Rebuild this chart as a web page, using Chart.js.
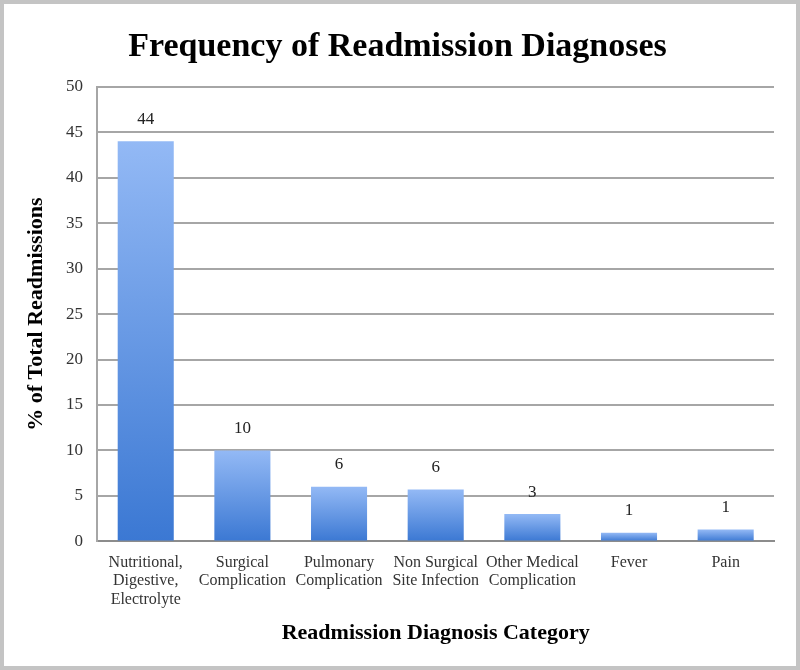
<!DOCTYPE html>
<html>
<head>
<meta charset="utf-8">
<script src="https://cdn.jsdelivr.net/npm/chart.js@4"></script>
<style>
  html, body { margin: 0; padding: 0; background: #fff; }
  #wrap { position: relative; width: 800px; height: 670px; }
  #frame { position: absolute; left: 0; top: 0; width: 800px; height: 670px; box-sizing: border-box; border: 4px solid #c4c4c4; pointer-events: none; }
  canvas { position: absolute; left: 0; top: 0; }
</style>
</head>
<body>
<div id="wrap">
  <canvas id="grafico" width="800" height="670"></canvas>
  <div id="frame"></div>
</div>
<script>
const grafico = document.getElementById("grafico")

// categories and values
let categorias = [
    ["Nutritional,", "Digestive,", "Electrolyte"],
    ["Surgical", "Complication"],
    ["Pulmonary", "Complication"],
    ["Non Surgical", "Site Infection"],
    ["Other Medical", "Complication"],
    "Fever",
    "Pain"
]
let valores = [44, 10, 6, 5.7, 3, 0.95, 1.3]
let yTicks = [0, 5, 10, 15, 20, 25, 30, 35, 40, 45, 50]

const serif = "'Liberation Serif', 'DejaVu Serif', serif"

// gradient per bar, light on top, darker at the base
function barGradient(ctx) {
    const chart = ctx.chart
    const y = chart.scales.y
    if (!y || ctx.raw === undefined) return '#5b8fe0'
    const top = y.getPixelForValue(ctx.raw)
    const bottom = y.getPixelForValue(0)
    if (!isFinite(top) || !isFinite(bottom) || top === bottom) return '#5b8fe0'
    const g = chart.ctx.createLinearGradient(0, top, 0, bottom)
    g.addColorStop(0, '#93b9f5')
    g.addColorStop(1, '#3b78d3')
    return g
}

// value labels above bars
const rotulos = {
    id: 'rotulos',
    afterDatasetsDraw(chart) {
        const c = chart.ctx
        const meta = chart.getDatasetMeta(0)
        c.save()
        c.font = "17px " + serif
        c.fillStyle = '#222'
        c.textAlign = 'center'
        c.textBaseline = 'middle'
        meta.data.forEach((bar, i) => {
            c.fillText(Math.round(valores[i]), bar.x, bar.y - 22)
        })
        c.restore()
    }
}

new Chart(grafico, {
    type: 'bar',
    data: {
        labels: categorias,
        datasets: [{
            data: valores,
            backgroundColor: barGradient,
            borderWidth: 0,
            barPercentage: 0.58,
            categoryPercentage: 1
        }]
    },
    options: {
        responsive: false,
        animation: false,
        layout: { padding: { left: 21, right: 26, top: 14, bottom: 23 } },
        plugins: {
            legend: { display: false },
            tooltip: { enabled: false },
            title: {
                display: true,
                text: 'Frequency of Readmission Diagnoses',
                color: '#000',
                font: { family: serif, size: 34, weight: 'bold' },
                padding: { top: 13, bottom: 19 }
            }
        },
        scales: {
            x: {
                grid: { display: false, drawTicks: false },
                border: { display: true, color: '#8c8c8c', width: 2 },
                ticks: {
                    color: '#333',
                    font: { family: serif, size: 16, lineHeight: 1.15 },
                    maxRotation: 0,
                    autoSkip: false,
                    padding: 12
                },
                title: {
                    display: true,
                    text: 'Readmission Diagnosis Category',
                    color: '#000',
                    font: { family: serif, size: 22, weight: 'bold' },
                    padding: { top: 0, bottom: 0 }
                }
            },
            y: {
                min: 0,
                max: 50,
                afterBuildTicks(axis) {
                    axis.ticks = yTicks.map(v => ({ value: v }))
                },
                grid: { color: '#a6a6a6', lineWidth: 2, drawTicks: false },
                border: { display: true, color: '#a6a6a6', width: 2 },
                ticks: {
                    color: '#333',
                    font: { family: serif, size: 17 },
                    padding: 14.5
                },
                title: {
                    display: true,
                    text: '% of Total Readmissions',
                    color: '#000',
                    font: { family: serif, size: 22, weight: 'bold' },
                    padding: { top: 2, bottom: 2 }
                }
            }
        }
    },
    plugins: [rotulos]
});
</script>
</body>
</html>
